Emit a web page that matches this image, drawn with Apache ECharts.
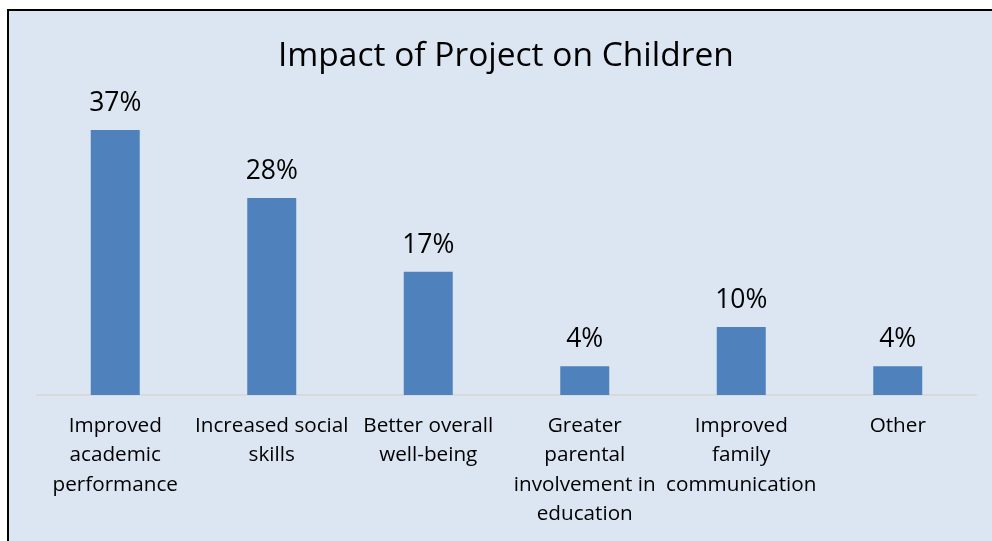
<!DOCTYPE html>
<html>
<head>
<meta charset="utf-8">
<script src="https://cdn.jsdelivr.net/npm/echarts@6/dist/echarts.min.js"></script>
<style>
html,body{margin:0;padding:0;background:#ffffff;}
#chart{width:992px;height:541px;}
</style>
</head>
<body>
<div id="chart"></div>
<script>
const titleText = 'Impact of Project on Children';
const categories = [
  'Improved\nacademic\nperformance',
  'Increased social\nskills',
  'Better overall\nwell-being',
  'Greater\nparental\ninvolvement in\neducation',
  'Improved\nfamily\ncommunication',
  'Other'
];
const values = [37.0, 27.5, 17.2, 4.0, 9.5, 4.0];
const valueLabels = ['37%', '28%', '17%', '4%', '10%', '4%'];

const FONT = 'Open Sans';
const chart = echarts.init(document.getElementById('chart'), null, {renderer: 'canvas'});
chart.setOption({
  backgroundColor: '#ffffff',
  animation: false,
  graphic: [{
    type: 'rect',
    z: -10,
    silent: true,
    shape: {x: 8, y: 10, width: 1000, height: 560},
    style: {fill: '#dce6f2', stroke: '#000000', lineWidth: 2}
  }],
  title: {
    text: titleText,
    left: 278,
    top: 39,
    padding: 0,
    textStyle: {fontFamily: FONT, fontSize: 33.5, fontWeight: 'normal', color: '#000000'}
  },
  grid: {left: 37, right: 16, top: 108.5, bottom: 146, containLabel: false},
  xAxis: {
    type: 'category',
    data: categories,
    axisLine: {show: true, lineStyle: {color: '#d9d9d9', width: 2}},
    axisTick: {show: false},
    axisLabel: {
      interval: 0,
      margin: 16,
      fontFamily: FONT,
      fontSize: 20.7,
      lineHeight: 29.5,
      color: '#000000',
      align: 'center'
    }
  },
  yAxis: {
    type: 'value',
    min: 0,
    max: 40,
    show: false,
    splitLine: {show: false}
  },
  series: [{
    type: 'bar',
    data: values,
    barWidth: '31.3%',
    itemStyle: {color: '#4f81bd'},
    label: {
      show: true,
      position: 'top',
      distance: 13,
      fontFamily: FONT,
      fontSize: 26.5,
      color: '#000000',
      formatter: p => valueLabels[p.dataIndex]
    }
  }]
});
</script>
</body>
</html>
